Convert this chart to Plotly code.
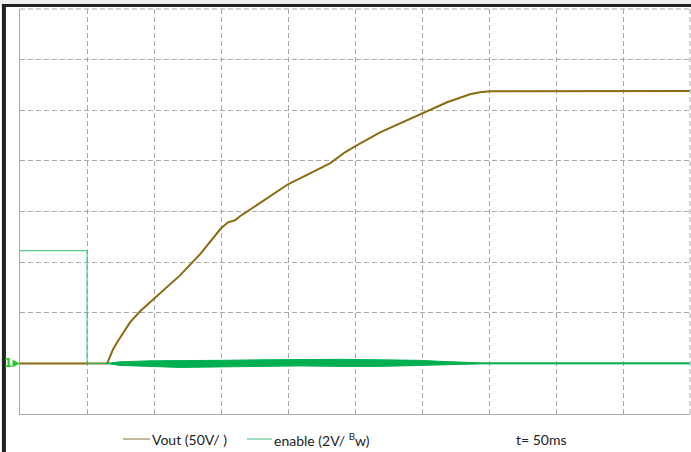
import plotly.graph_objects as go

# ---- data (time in ms, 50 ms/div) ----
vout_t = [0, 64.9, 65.7, 69.4, 72.4, 82.1, 89.6, 99.3, 109.7, 119.4, 134.3, 145.5, 150.0,
          155.2, 160.4, 164.2, 173.9, 182.8, 194.0, 200.0, 216.4, 231.3, 242.5, 250.0,
          268.7, 283.6, 300.0, 318.7, 335.8, 343.3, 350.7, 400.0, 450.0, 500.0]
vout_v = [0, 0, 2.0, 13.8, 20.7, 40.5, 51.4, 63.2, 75.1, 86.9, 107.7, 125.5, 133.4,
          139.3, 141.3, 145.3, 154.1, 162.0, 171.9, 176.9, 187.7, 197.6, 208.5, 214.4,
          228.2, 237.1, 247.0, 257.9, 265.8, 267.7, 268.7, 269.0, 269.2, 269.0]

en_t = [0, 50.0, 50.0, 64.0]
en_v = [4.45, 4.45, 0, 0]

# enable ripple envelope after switch-off
env_t = [64.0, 74.6, 97.0, 119.4, 149.3, 179.1, 209.0, 238.8, 268.7, 298.5, 313.4, 328.4, 343.3, 500.0]
env_hi = [0.0, 0.06, 0.10, 0.12, 0.12, 0.14, 0.16, 0.16, 0.14, 0.12, 0.08, 0.04, 0.02, 0.02]
env_lo = [0.0, -0.08, -0.12, -0.16, -0.14, -0.12, -0.10, -0.12, -0.12, -0.10, -0.08, -0.04, -0.02, -0.02]

VOUT_C = "#8a6a12"
EN_C = "#00b050"

fig = go.Figure()
fig.add_trace(go.Scatter(x=env_t + env_t[::-1], y=env_hi + env_lo[::-1], yaxis="y2",
                         fill="toself", fillcolor=EN_C, line=dict(color=EN_C, width=1),
                         mode="lines", hoverinfo="skip", showlegend=False))
fig.add_trace(go.Scatter(x=en_t, y=en_v, yaxis="y2", mode="lines",
                         line=dict(color="#2fbf6c", width=1), showlegend=False))
fig.add_trace(go.Scatter(x=vout_t, y=vout_v, mode="lines",
                         line=dict(color=VOUT_C, width=2), showlegend=False))

grid = dict(showgrid=True, gridcolor="#a8a8a8", gridwidth=1, griddash="5px,3px",
            showticklabels=False, ticks="", zeroline=False,
            showline=True, linecolor="#a8a8a8", linewidth=1)
fig.update_layout(
    width=691, height=452,
    margin=dict(l=20, r=1, t=9, b=38),
    paper_bgcolor="white", plot_bgcolor="white",
    xaxis=dict(range=[0, 500], dtick=50, tick0=0, **grid),
    yaxis=dict(range=[-50, 350], dtick=50, tick0=-50, **grid),
    yaxis2=dict(range=[-2, 14], overlaying="y", visible=False),
    font=dict(family="Lato", size=14, color="#222222"),
)

LY = -25 / 405
shapes = [
    # window frame
    dict(type="rect", xref="paper", yref="paper", x0=-0.04, x1=1.01, y0=1.0123, y1=1.03,
         fillcolor="#eeeeee", line=dict(width=0), layer="below"),
    dict(type="rect", xref="paper", yref="paper", x0=-0.027, x1=1.01, y0=1.005, y1=1.0123,
         fillcolor="#222222", line=dict(width=0)),
    dict(type="rect", xref="paper", yref="paper", x0=-0.027, x1=-0.021, y0=-0.2, y1=1.0123,
         fillcolor="#222222", line=dict(width=0)),
    # top & right dashed border
    dict(type="line", xref="paper", yref="paper", x0=0, x1=1, y0=1, y1=1,
         line=dict(color="#a8a8a8", width=1, dash="5px,3px")),
    dict(type="line", xref="paper", yref="paper", x0=1, x1=1, y0=0, y1=1,
         line=dict(color="#a8a8a8", width=1, dash="5px,3px")),
    # legend samples
    dict(type="line", xref="paper", yref="paper", x0=(123-20)/670, x1=(150-20)/670,
         y0=LY, y1=LY, line=dict(color="#8a7030", width=1)),
    dict(type="line", xref="paper", yref="paper", x0=(247-20)/670, x1=(272-20)/670,
         y0=LY, y1=LY, line=dict(color="#3cba7a", width=1)),
]
fig.update_layout(shapes=shapes)

ann = [
    dict(xref="paper", yref="paper", x=(150-20)/670, y=LY, xanchor="left", yanchor="middle",
         text="Vout (50V/ )", showarrow=False),
    dict(xref="paper", yref="paper", x=(272-20)/670, y=LY, xanchor="left", yanchor="middle",
         text="enable (2V/ <sup>B</sup>w)", showarrow=False),
    dict(xref="paper", yref="paper", x=(514-20)/670, y=LY, xanchor="left", yanchor="middle",
         text="t= 50ms", showarrow=False),
    dict(xref="paper", yref="y", x=0, y=0, text="<b>1</b>", showarrow=True, ax=-12, ay=0,
         arrowhead=2, arrowsize=1, arrowwidth=1.5, arrowcolor="#22cc22",
         font=dict(color="#22cc22", size=12, family="DejaVu Sans")),
]
fig.update_layout(annotations=ann)

fig.write_html("out.html", config={"displayModeBar": False},
               post_script="document.body.style.margin='0px';document.body.style.padding='0px';")
